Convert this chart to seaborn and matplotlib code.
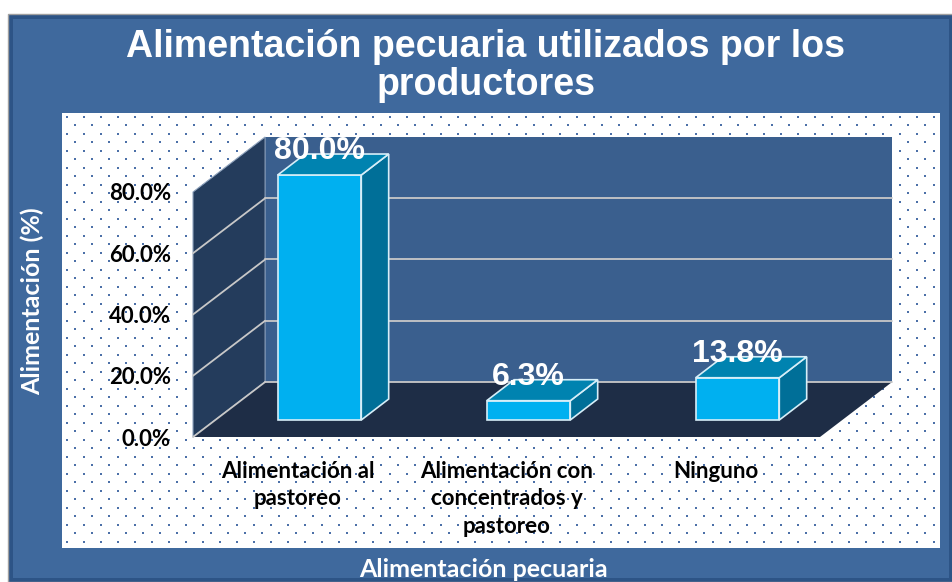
import numpy as np
import pandas as pd
import matplotlib
matplotlib.use('Agg')
import matplotlib.pyplot as plt
import seaborn as sns
from matplotlib.patches import Polygon, Rectangle

# Data
categories = ['Alimentación al\npastoreo',
              'Alimentación con\nconcentrados y\npastoreo',
              'Ninguno']
percentages = [80.0, 6.3, 13.8]
y_ticks = [0, 20, 40, 60, 80]
y_tick_labels = ['0.0%', '20.0%', '40.0%', '60.0%', '80.0%']

title = 'Alimentación pecuaria utilizados por los\nproductores'
x_title = 'Alimentación pecuaria'
y_title = 'Alimentación (%)'

W, H = 953, 582


def box(x0, y0, x1, y1):
    """pixel box -> figure rect"""
    return [x0 / W, 1 - y1 / H, (x1 - x0) / W, (y1 - y0) / H]


sns.set_theme(style='white')
plt.rcParams['font.family'] = ['Lato', 'DejaVu Sans']

fig = plt.figure(figsize=(W / 100, H / 100), dpi=100)
fig.patch.set_facecolor('white')

# Outer blue panel
fig.add_artist(Rectangle((8 / W, 0), 1 - 8 / W, 1 - 14 / H, transform=fig.transFigure,
                         facecolor='#2d5486', edgecolor='#a0a0a0', lw=1, zorder=0))
fig.add_artist(Rectangle((13 / W, 4 / H), 1 - 17 / W, 1 - 23 / H, transform=fig.transFigure,
                         facecolor='#3f699d', edgecolor='none', zorder=0))

# Dotted white plot area
bg = fig.add_axes(box(62, 113, 940, 548), zorder=0)
th, tw = 435, 878
tex = np.ones((th, tw, 3))
dot = np.array([0.30, 0.44, 0.66])
for k, r in enumerate(np.arange(3, th - 1, 8.5)):
    r = int(r)
    start = 4 if k % 2 == 0 else 12
    for c in range(start, tw - 1, 17):
        tex[r:r + 2, c:c + 2] = dot
bg.imshow(tex, interpolation='nearest', aspect='auto')
bg.axis('off')

# Main axes = front plane of the 3D box
ax = fig.add_axes(box(193, 192, 820, 437), zorder=1)
ax.set_xlim(-0.5, 2.5)
ax.set_ylim(0, 80)
ax.patch.set_alpha(0)
for s in ax.spines.values():
    s.set_visible(False)
ax.grid(False)

dx, dy = 0.345, 17.96   # wall depth
x0, x1 = ax.get_xlim()
ymax = ax.get_ylim()[1]

back = Polygon([(x0 + dx, dy), (x0 + dx, ymax + dy), (x1 + dx, ymax + dy), (x1 + dx, dy)],
               facecolor='#3a5f8e', edgecolor='none', clip_on=False, zorder=1)
side = Polygon([(x0, 0), (x0, ymax), (x0 + dx, ymax + dy), (x0 + dx, dy)],
               facecolor='#243c5c', edgecolor='#8fa3bd', lw=0.8, clip_on=False, zorder=1)
floor = Polygon([(x0, 0), (x1, 0), (x1 + dx, dy), (x0 + dx, dy)],
                facecolor='#1e2d46', edgecolor='none', clip_on=False, zorder=1)
for p in (back, side, floor):
    ax.add_patch(p)

for v in y_ticks[:-1]:
    ax.plot([x0 + dx, x1 + dx], [v + dy, v + dy], color='#c8c8c8', lw=1.3,
            clip_on=False, zorder=2)
    ax.plot([x0, x0 + dx], [v, v + dy], color='#c8c8c8', lw=1.3,
            clip_on=False, zorder=2)

ax.set_yticks(y_ticks)
ax.set_yticklabels(y_tick_labels, fontsize=16, fontweight='bold', color='black')
ax.set_xticks(range(len(categories)))
ax.set_xticklabels(categories, fontsize=16, fontweight='bold', color='black',
                   linespacing=1.4)
ax.tick_params(axis='y', length=0, pad=16)
ax.tick_params(axis='x', length=0, pad=17)

# Bars sit a bit behind the front plane
df = pd.DataFrame({'categoria': categories, 'porcentaje': percentages})
axb = fig.add_axes(box(215, 175, 842, 420), zorder=2)
sns.barplot(data=df, x='categoria', y='porcentaje', order=categories, width=0.4,
            color='#00b0f0', saturation=1, edgecolor='#d6eef8', linewidth=1.2, ax=axb)
axb.set_xlim(-0.5, 2.5)
axb.set_ylim(0, 80)
axb.axis('off')

bdx, bdy = 0.131, 6.85   # bar depth
for p, v in zip(list(axb.patches), percentages):
    p.set_clip_on(False)
    bx0 = p.get_x()
    bw = p.get_width()
    bx1 = bx0 + bw
    h = p.get_height()
    axb.add_patch(Polygon([(bx1, 0), (bx1 + bdx, bdy), (bx1 + bdx, h + bdy), (bx1, h)],
                          facecolor='#006f98', edgecolor='#d6eef8', lw=1.2, clip_on=False))
    axb.add_patch(Polygon([(bx0, h), (bx1, h), (bx1 + bdx, h + bdy), (bx0 + bdx, h + bdy)],
                          facecolor='#0083b0', edgecolor='#d6eef8', lw=1.2, clip_on=False))
    axb.annotate(f'{v:.1f}%', (bx0 + bw / 2, h), xytext=(0, 11.5),
                 textcoords='offset points', ha='center', va='baseline',
                 color='white', fontsize=23, fontweight='bold', family='Liberation Sans',
                 annotation_clip=False)

# Titles
fig.text(486 / W, 1 - 66 / H, title, ha='center', va='center', fontsize=27,
         fontweight='bold', color='white', family='Liberation Sans', linespacing=1.1)
fig.text(32 / W, 1 - 301 / H, y_title, rotation=90, ha='center', va='center',
         fontsize=18, fontweight='bold', color='white')
fig.text(483 / W, 1 - 577 / H, x_title, ha='center', va='baseline',
         fontsize=18, fontweight='bold', color='white')

fig.savefig('out.png', dpi=100)
